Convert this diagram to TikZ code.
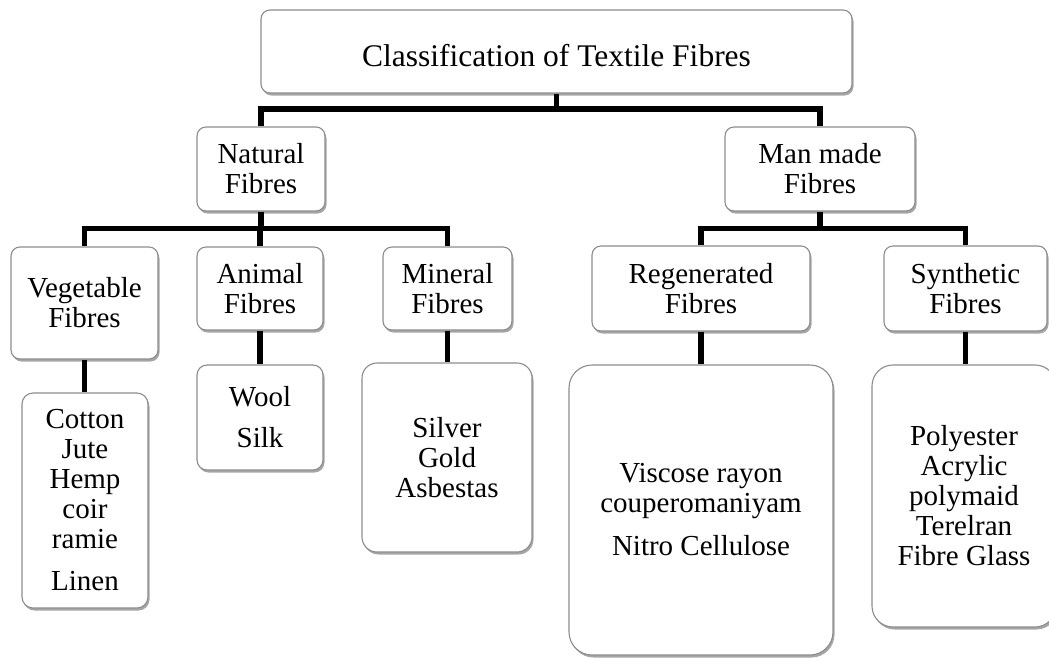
\documentclass[tikz,border=0pt]{standalone}
\usepackage{fontspec}
\setmainfont{Liberation Serif}
\usetikzlibrary{shadows}
\definecolor{boxgray}{RGB}{140,140,140}
\begin{document}
\begin{tikzpicture}[x=1pt,y=-1pt,
  fbox/.style={draw=boxgray, line width=1.1pt, fill=white, rounded corners=9pt,
    inner sep=0pt, align=center, font=\fontsize{29}{30}\selectfont,
    drop shadow={shadow xshift=1.5pt, shadow yshift=-2.5pt, opacity=0.35, fill=black}},
  conn/.style={line width=5.5pt, black, line join=miter}]
\useasboundingbox (0,0) rectangle (1049,657);

% level 1
\node[fbox, minimum width=591pt, minimum height=83pt,
      font=\fontsize{31.5}{33}\selectfont, text height=30pt, text depth=0pt]
  (top) at (556.5,51.5) {Classification of Textile Fibres};

% level 2
\node[fbox, minimum width=128pt, minimum height=84pt] (nat) at (261,169) {Natural\\Fibres};
\node[fbox, minimum width=190pt, minimum height=84pt] (man) at (820,169) {Man made\\Fibres};

% level 3
\node[fbox, minimum width=147pt, minimum height=112pt] (veg) at (84.5,303) {Vegetable\\Fibres};
\node[fbox, minimum width=126pt, minimum height=83pt] (ani) at (260,288.5) {Animal\\Fibres};
\node[fbox, minimum width=129pt, minimum height=83pt] (min) at (447.5,288.5) {Mineral\\Fibres};
\node[fbox, minimum width=218pt, minimum height=85pt] (reg) at (701,288.5) {Regenerated\\Fibres};
\node[fbox, minimum width=163pt, minimum height=85pt] (syn) at (965.5,288.5) {Synthetic\\Fibres};

% level 4
\node[fbox, rounded corners=11pt, minimum width=126pt, minimum height=215pt] (cot) at (85,500.5)
  {Cotton\\Jute\\Hemp\\coir\\ramie\\[12pt]Linen};
\node[fbox, rounded corners=10pt, minimum width=126pt, minimum height=105pt] (wool) at (260,417.5)
  {Wool\\[11pt]Silk};
\node[fbox, rounded corners=15pt, minimum width=170pt, minimum height=189pt] (sil) at (447,457.5)
  {Silver\\Gold\\Asbestas};
\node[fbox, rounded corners=23pt, minimum width=264pt, minimum height=290pt] (vis) at (701,510)
  {Viscose rayon\\couperomaniyam\\[13pt]Nitro Cellulose};
\node[fbox, rounded corners=21pt, minimum width=184pt, minimum height=262pt] (pol) at (964,496)
  {Polyester\\Acrylic\\polymaid\\Terelran\\Fibre Glass};

% connectors
\draw[conn] (top.south) -- ++(0,15.5) coordinate (j1);
\draw[conn] (j1) -| (nat.north);
\draw[conn] (j1) -| (man.north);

\draw[conn] (nat.south) -- ++(0,17) coordinate (j2);
\draw[conn] (j2) -| (veg.north);
\draw[conn] (j2) -| (ani.north);
\draw[conn] (j2) -| (min.north);

\draw[conn] (man.south) -- ++(0,17) coordinate (j3);
\draw[conn] (j3) -| (reg.north);
\draw[conn] (j3) -| (syn.north);

\draw[conn] (veg.south) -- (veg.south |- cot.north);
\draw[conn] (ani.south) -- (ani.south |- wool.north);
\draw[conn] (min.south) -- (min.south |- sil.north);
\draw[conn] (reg.south) -- (reg.south |- vis.north);
\draw[conn] (syn.south) -- (syn.south |- pol.north);
\end{tikzpicture}
\end{document}
